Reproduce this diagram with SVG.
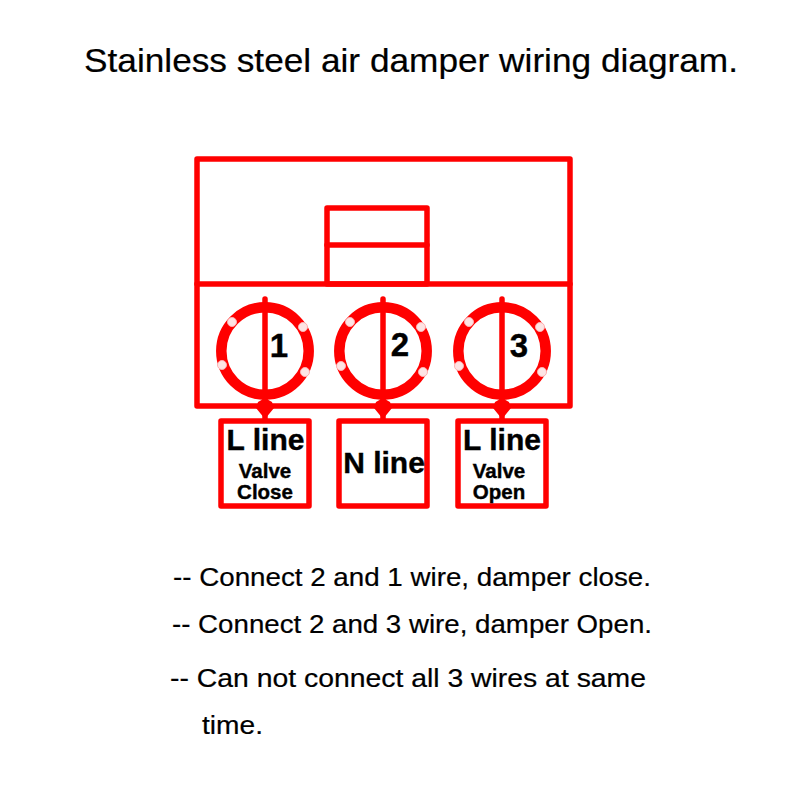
<svg xmlns="http://www.w3.org/2000/svg" width="800" height="800" viewBox="0 0 800 800">
<style>
.l{fill:none;stroke:#ff0000;stroke-width:5.500;stroke-linejoin:round;stroke-linecap:round}
.r{fill:none;stroke:#ff0000;stroke-width:10.500}
.d{fill:#fde4e4;stroke:#ffb0b0;stroke-width:1}
.w{fill:#ff0000}
text{font-family:"Liberation Sans",Arial,sans-serif;fill:#000}
.b{font-weight:bold;text-anchor:middle;stroke:#000;stroke-width:.4}
.t{font-size:30px}
.v{font-size:20.500px}
.n{font-size:33px}
.p{stroke:#000;stroke-width:.2}
</style>
<rect width="800" height="800" fill="#fff"/>
<text class="p" x="84" y="72" font-size="33.500" textLength="654" lengthAdjust="spacingAndGlyphs">Stainless steel air damper wiring diagram.</text>
<g id="housing">
<rect class="l" x="197" y="159" width="373" height="247"/>
<path class="l" d="M197 284H570"/>
<rect class="l" x="327" y="208" width="100" height="76"/>
<path class="l" d="M327 245H427"/>
</g>
<g id="connectors">
<path class="l" d="M265 299V420M383 299V420M502 299V420"/>
<path class="w" d="M265 398l7 4 2 6-9 11-9-11 2-6zM383 398l7 4 2 6-9 11-9-11 2-6zM502 398l7 4 2 6-9 11-9-11 2-6z"/>
</g>
<g id="terminal1"><circle class="r" cx="265" cy="351" r="43.700"/>
<circle class="d" cx="232" cy="322" r="4.500"/><circle class="d" cx="303" cy="327" r="4.500"/><circle class="d" cx="222" cy="365" r="4.500"/><circle class="d" cx="305" cy="372" r="4.500"/>
<text class="b n" x="279" y="357">1</text></g>
<g id="terminal2"><circle class="r" cx="383" cy="351" r="43.700"/>
<circle class="d" cx="350" cy="322" r="4.500"/><circle class="d" cx="421" cy="327" r="4.500"/><circle class="d" cx="341" cy="366" r="4.500"/><circle class="d" cx="423" cy="372" r="4.500"/>
<text class="b n" x="400" y="356">2</text></g>
<g id="terminal3"><circle class="r" cx="502" cy="351" r="43.700"/>
<circle class="d" cx="469" cy="322" r="4.500"/><circle class="d" cx="540" cy="327" r="4.500"/><circle class="d" cx="459" cy="366" r="4.500"/><circle class="d" cx="542" cy="372" r="4.500"/>
<text class="b n" x="519" y="357">3</text></g>
<g id="box1"><rect class="l" x="221" y="421" width="88" height="85"/>
<text class="b t" x="265.500" y="450">L line</text>
<text class="b v" x="265" y="478">Valve</text>
<text class="b v" x="265" y="499">Close</text></g>
<g id="box2"><rect class="l" x="339" y="421" width="88" height="85"/>
<text class="b t" x="384" y="473">N line</text></g>
<g id="box3"><rect class="l" x="458" y="421" width="88" height="85"/>
<text class="b t" x="502" y="450">L line</text>
<text class="b v" x="499" y="478">Valve</text>
<text class="b v" x="499" y="499">Open</text></g>
<g id="notes" font-size="25.500">
<text class="p" x="173" y="586" textLength="478" lengthAdjust="spacingAndGlyphs">-- Connect 2 and 1 wire, damper close.</text>
<text class="p" x="172" y="633" textLength="480" lengthAdjust="spacingAndGlyphs">-- Connect 2 and 3 wire, damper Open.</text>
<text class="p" x="170" y="687" textLength="476" lengthAdjust="spacingAndGlyphs">-- Can not connect all 3 wires at same</text>
<text class="p" x="202" y="734" textLength="61" lengthAdjust="spacingAndGlyphs">time.</text>
</g>
</svg>
